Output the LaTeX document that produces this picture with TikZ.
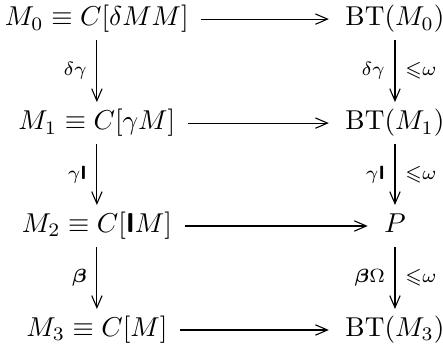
\documentclass[tikz,border=0pt]{standalone}
\usepackage{amsmath}
\usepackage{amssymb}
\usepackage{tikz}
\usetikzlibrary{arrows.meta}
\newcommand{\combI}{\text{\sffamily\bfseries I}}
\tikzset{
  obj/.style={anchor=base, inner xsep=4.4pt, inner ysep=2.5pt,
              text height=7.5pt, text depth=2.5pt},
  map/.style={-{Straight Barb[length=4.4pt,width=3.8pt]}, shorten >=1.5pt, thin},
  vmap/.style={-{Straight Barb[length=4.4pt,width=3.8pt]}, thin},
  lbl/.style={inner sep=1pt, midway},
}
\begin{document}
\begin{tikzpicture}
\useasboundingbox (0,0) rectangle (162.3pt,-130.4pt);
% left column
\node[obj] (m0) at (35.5pt,-9.5pt) {$M_0 \equiv C[\delta M M]$};
\node[obj] (m1) at (35.5pt,-47.6pt) {$M_1 \equiv C[\gamma M]$};
\node[obj] (m2) at (35.5pt,-85.3pt) {$M_2 \equiv C[\combI M]$};
\node[obj] (m3) at (35.5pt,-123.4pt) {$M_3 \equiv C[M]$};
% right column
\node[obj] (bt0) at (144.7pt,-9.5pt) {$\mathrm{BT}(M_0)$};
\node[obj] (bt1) at (144.7pt,-47.6pt) {$\mathrm{BT}(M_1)$};
\node[obj] (p) at (144.7pt,-85.3pt) {$P$};
\node[obj] (bt3) at (144.7pt,-123.4pt) {$\mathrm{BT}(M_3)$};
% rows
\draw[map] (m0)--(bt0);\draw[map] (m1)--(bt1);
\draw[map] (m2)--(p);\draw[map] (m3)--(bt3);
% columns
\draw[vmap] (m0)--(m1) node[lbl,left=2.5pt] {$\scriptstyle\delta\gamma$};
\draw[vmap] (m1)--(m2) node[lbl,left=2.5pt] {$\scriptstyle\gamma\combI$};
\draw[vmap] (m2)--(m3) node[lbl,left=2.5pt] {$\scriptstyle\boldsymbol{\beta}$};
\draw[vmap] (bt0)--(bt1) node[lbl,left=2.5pt] {$\scriptstyle\delta\gamma$}
  node[lbl,right=2.5pt] {$\scriptstyle\leqslant\omega$};
\draw[vmap] (bt1)--(p) node[lbl,left=2.5pt] {$\scriptstyle\gamma\combI$}
  node[lbl,right=2.5pt] {$\scriptstyle\leqslant\omega$};
\draw[vmap] (p)--(bt3) node[lbl,left=2.5pt] {$\scriptstyle\boldsymbol{\beta}\Omega$}
  node[lbl,right=2.5pt] {$\scriptstyle\leqslant\omega$};
\end{tikzpicture}
\end{document}
